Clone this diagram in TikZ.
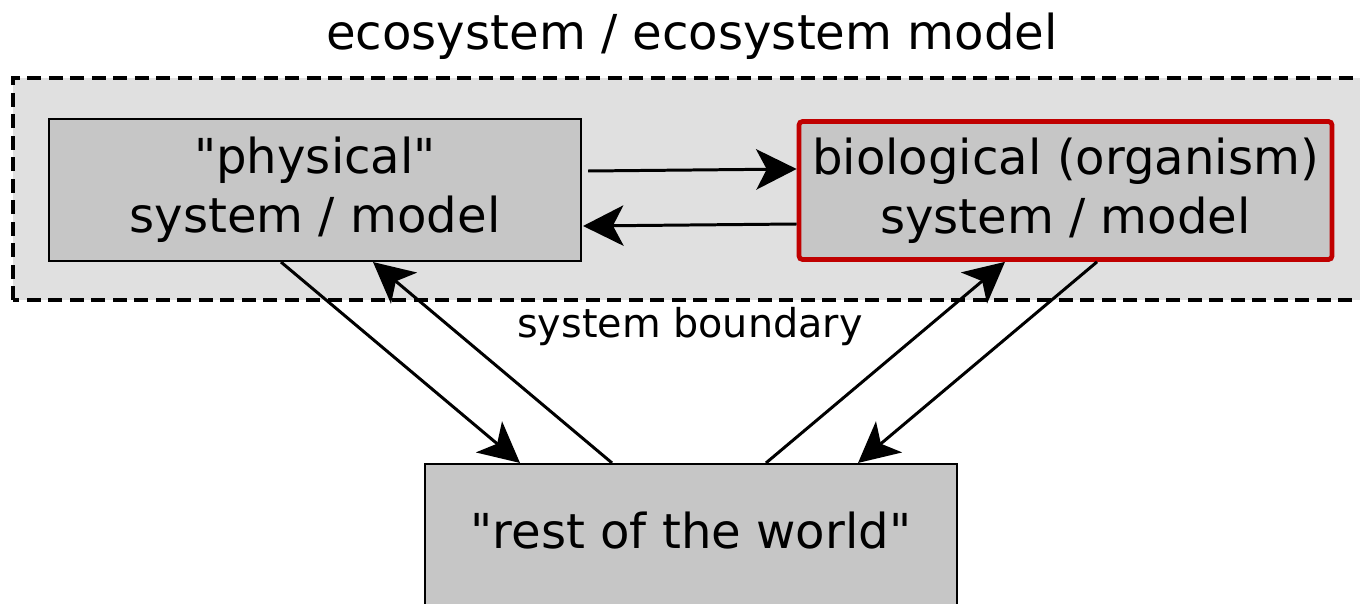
\documentclass[tikz,border=0pt]{standalone}
\usepackage{fontspec}
\setmainfont{DejaVu Sans}
\usetikzlibrary{positioning, arrows.meta, calc}
\definecolor{BoxGray}{HTML}{C6C6C6}
\definecolor{BoundaryGray}{HTML}{E0E0E0}
\definecolor{OrganismRed}{HTML}{C00000}

\begin{document}
\begin{tikzpicture}[
    sysbox/.style={draw, line width=1.2pt, fill=BoxGray, minimum width=10.64cm, minimum height=2.84cm, align=center, font=\fontsize{27.4}{33.5}\selectfont},
    flow/.style={-{Stealth[length=23pt, width=23pt, inset=6pt]}, line width=1.7pt}
]
                \useasboundingbox (0,0) rectangle (27.2,12.06);

                % Ecosystem level
                \node[anchor=base, font=\fontsize{27.4}{33.5}\selectfont] (eco) at (13.84,11.06) {ecosystem / ecosystem model};
                \draw[line width=2.6pt, dash pattern=on 0.28cm off 0.15cm, fill=BoundaryGray] (0.26,6.06) rectangle (27.7,10.5);
                \node[anchor=base, font=\fontsize{22.6}{27}\selectfont] (bound) at (13.8,5.32) {system boundary};

                % Subsystems
                \node[sysbox] (phys) at (6.3,8.26) {\textquotedbl physical\textquotedbl\\system / model};
                \node[sysbox, draw=OrganismRed, line width=2.7pt, rounded corners=2pt, minimum width=10.66cm, minimum height=2.76cm] (bio) at (21.31,8.25) {biological (organism)\\system / model};

                % Outside world
                \node[sysbox] (rest) at (13.82,1.36) {\raisebox{5pt}{\textquotedbl rest of the world\textquotedbl}};

                % Arrows
                \draw[flow] ($(phys.east)+(0.12,0.38)$) -- ($(bio.west)+(0,0.43)$);
                \draw[flow] ($(bio.west)+(0,-0.67)$) -- ($(phys.east)+(0.02,-0.72)$);
                \draw[flow] ($(phys.south)+(-0.68,0)$) -- ($(rest.north)+(-3.42,0)$);
                \draw[flow] ($(rest.north)+(-1.58,0)$) -- ($(phys.south)+(1.16,0)$);
                \draw[flow] ($(rest.north)+(1.5,0)$) -- ($(bio.south)+(-1.21,0)$);
                \draw[flow] ($(bio.south)+(0.63,0)$) -- ($(rest.north)+(3.34,0)$);
\end{tikzpicture}
\end{document}
